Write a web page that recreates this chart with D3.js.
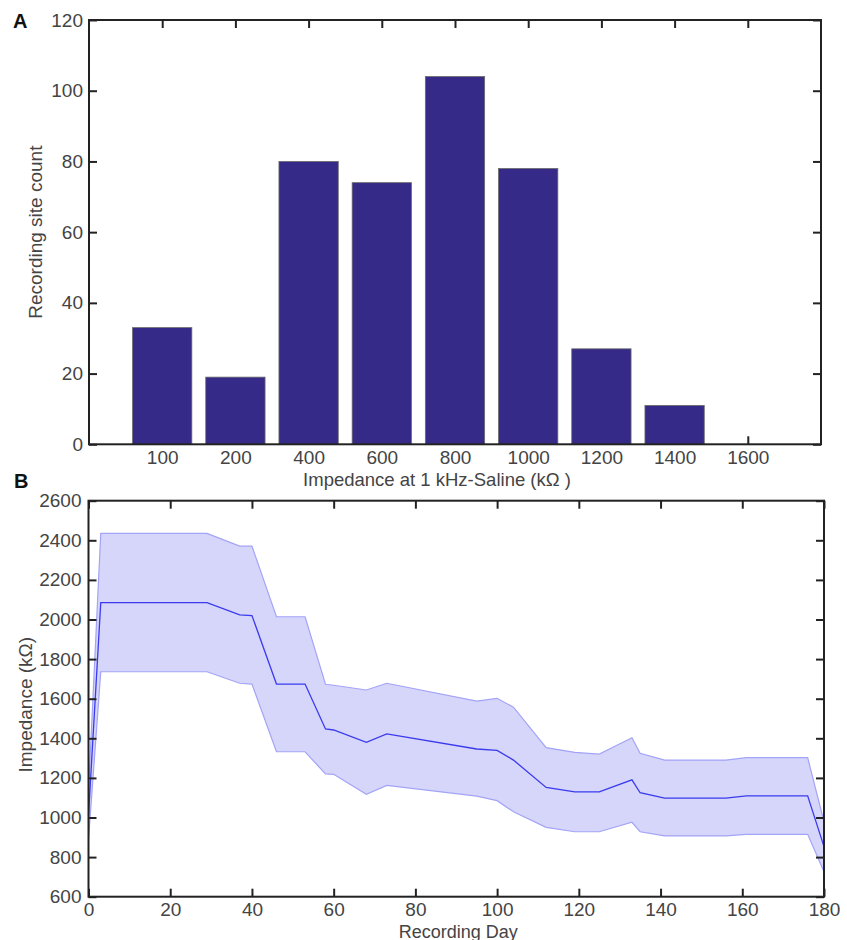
<!DOCTYPE html>
<html>
<head>
<meta charset="utf-8">
<script src="https://cdn.jsdelivr.net/npm/d3@7/dist/d3.min.js"></script>
<style>
  html, body { margin: 0; padding: 0; background: #fff; }
  svg { display: block; font-family: "Liberation Sans", Arial, Helvetica, sans-serif; }
  .tick text { fill: #444; font-size: 19px; }
  .tick line { stroke: #222; stroke-width: 2; }
</style>
</head>
<body>
<svg id="chart" width="847" height="940"></svg>
<script>
// ---------- Panel A data ----------
const binLabels = ["100", "200", "400", "600", "800", "1000", "1200", "1400", "1600"];
const binCounts = [33, 19, 80, 74, 104, 78, 27, 11, 0];
const countTicks = [0, 20, 40, 60, 80, 100, 120];

// ---------- Panel B data ----------
const days      = [0, 3, 29, 37, 40, 46, 53, 58, 60, 68, 73, 95, 100, 104, 112, 119, 125, 133, 135, 141, 156, 161, 176, 180];
const meanImp   = [1010, 2085, 2085, 2023, 2020, 1674, 1674, 1447, 1442, 1380, 1422, 1346, 1339, 1290, 1152, 1129, 1129, 1190, 1125, 1098, 1098, 1109, 1109, 853];
const upperImp  = [1130, 2435, 2435, 2371, 2371, 2014, 2014, 1673, 1668, 1644, 1678, 1588, 1602, 1557, 1353, 1329, 1320, 1403, 1324, 1290, 1290, 1302, 1302, 979];
const lowerImp  = [890, 1736, 1736, 1678, 1674, 1332, 1332, 1220, 1218, 1117, 1162, 1108, 1085, 1029, 950, 928, 928, 976, 928, 907, 907, 915, 915, 726];
const dayTicks  = [0, 20, 40, 60, 80, 100, 120, 140, 160, 180];
const impTicks  = [600, 800, 1000, 1200, 1400, 1600, 1800, 2000, 2200, 2400, 2600];

const svg = d3.select("#chart");
const fmt = d3.format("d");

// ================= Panel A =================
const A = { left: 89, right: 821, top: 20, bottom: 444.3 };
const xA = d3.scaleLinear().domain([0, 10]).range([A.left, A.right]);
const yA = d3.scaleLinear().domain([0, 120]).range([A.bottom, A.top]);
const binPos = binLabels.map((d, i) => i + 1);
const gA = svg.append("g");

gA.append("g").attr("transform", `translate(0,${A.bottom})`)
  .call(d3.axisBottom(xA).tickValues(binPos).tickFormat((d, i) => binLabels[i]).tickSizeInner(-8).tickSizeOuter(0).tickPadding(6.5))
  .call(g => g.select(".domain").remove());
gA.append("g").attr("transform", `translate(0,${A.top})`)
  .call(d3.axisTop(xA).tickValues(binPos).tickFormat("").tickSizeInner(-8).tickSizeOuter(0))
  .call(g => g.select(".domain").remove());
gA.append("g").attr("transform", `translate(${A.left},0)`)
  .call(d3.axisLeft(yA).tickValues(countTicks).tickFormat(fmt).tickSizeInner(-8).tickSizeOuter(0).tickPadding(6))
  .call(g => g.select(".domain").remove());
gA.append("g").attr("transform", `translate(${A.right},0)`)
  .call(d3.axisRight(yA).tickValues(countTicks).tickFormat("").tickSizeInner(-8).tickSizeOuter(0))
  .call(g => g.select(".domain").remove());

const barW = 0.81;
gA.append("g").selectAll("rect").data(binCounts).join("rect")
  .attr("x", (d, i) => xA(binPos[i] - barW / 2))
  .attr("width", xA(barW) - xA(0))
  .attr("y", d => yA(d))
  .attr("height", d => yA(0) - yA(d))
  .attr("fill", "#352a87")
  .attr("stroke", "#6a6a6a")
  .attr("stroke-width", 0.8);

gA.append("rect")
  .attr("x", A.left).attr("y", A.top)
  .attr("width", A.right - A.left).attr("height", A.bottom - A.top)
  .attr("fill", "none").attr("stroke", "#222").attr("stroke-width", 2);

gA.append("text")
  .attr("transform", `translate(37,${(A.top + A.bottom) / 2}) rotate(-90)`)
  .attr("text-anchor", "middle").attr("dominant-baseline", "middle")
  .attr("fill", "#444").attr("font-size", 19)
  .text("Recording site count");
gA.append("text")
  .attr("x", 437).attr("y", 486)
  .attr("text-anchor", "middle")
  .attr("fill", "#444").attr("font-size", 18.5)
  .text("Impedance at 1 kHz-Saline (kΩ )");
svg.append("text").attr("x", 13).attr("y", 28)
  .attr("font-weight", "bold").attr("font-size", 20).attr("fill", "#111").text("A");

// ================= Panel B =================
const B = { left: 88.5, right: 824, top: 500.7, bottom: 896.7 };
const xB = d3.scaleLinear().domain([0, 180]).range([B.left, B.right]);
const yB = d3.scaleLinear().domain([600, 2600]).range([B.bottom, B.top]);
const gB = svg.append("g");

const bandData = days.map((d, i) => ({ d, lo: lowerImp[i], hi: upperImp[i], m: meanImp[i] }));
gB.append("path").datum(bandData)
  .attr("d", d3.area().x(p => xB(p.d)).y0(p => yB(p.lo)).y1(p => yB(p.hi)))
  .attr("fill", "#d6d6fb").attr("stroke", "none");
gB.append("path").datum(bandData)
  .attr("d", d3.line().x(p => xB(p.d)).y(p => yB(p.hi)))
  .attr("fill", "none").attr("stroke", "#a3a3f7").attr("stroke-width", 1.2);
gB.append("path").datum(bandData)
  .attr("d", d3.line().x(p => xB(p.d)).y(p => yB(p.lo)))
  .attr("fill", "none").attr("stroke", "#a3a3f7").attr("stroke-width", 1.2);
gB.append("path").datum(bandData)
  .attr("d", d3.line().x(p => xB(p.d)).y(p => yB(p.m)))
  .attr("fill", "none").attr("stroke", "#3a3aee").attr("stroke-width", 1.3);

gB.append("g").attr("transform", `translate(0,${B.bottom})`)
  .call(d3.axisBottom(xB).tickValues(dayTicks).tickFormat(fmt).tickSizeInner(-8).tickSizeOuter(0).tickPadding(6))
  .call(g => g.select(".domain").remove());
gB.append("g").attr("transform", `translate(0,${B.top})`)
  .call(d3.axisTop(xB).tickValues(dayTicks).tickFormat("").tickSizeInner(-8).tickSizeOuter(0))
  .call(g => g.select(".domain").remove());
gB.append("g").attr("transform", `translate(${B.left},0)`)
  .call(d3.axisLeft(yB).tickValues(impTicks).tickFormat(fmt).tickSizeInner(-8).tickSizeOuter(0).tickPadding(7))
  .call(g => g.select(".domain").remove());
gB.append("g").attr("transform", `translate(${B.right},0)`)
  .call(d3.axisRight(yB).tickValues(impTicks).tickFormat("").tickSizeInner(-8).tickSizeOuter(0))
  .call(g => g.select(".domain").remove());

gB.append("rect")
  .attr("x", B.left).attr("y", B.top)
  .attr("width", B.right - B.left).attr("height", B.bottom - B.top)
  .attr("fill", "none").attr("stroke", "#222").attr("stroke-width", 2);

gB.append("text")
  .attr("transform", `translate(27,${(B.top + B.bottom) / 2 + 6}) rotate(-90)`)
  .attr("text-anchor", "middle").attr("dominant-baseline", "middle")
  .attr("fill", "#444").attr("font-size", 19)
  .text("Impedance (kΩ)");
gB.append("text")
  .attr("x", (B.left + B.right) / 2 + 2).attr("y", 937.5)
  .attr("text-anchor", "middle")
  .attr("fill", "#444").attr("font-size", 18)
  .text("Recording Day");
svg.append("text").attr("x", 14).attr("y", 488)
  .attr("font-weight", "bold").attr("font-size", 20).attr("fill", "#111").text("B");
</script>
</body>
</html>
